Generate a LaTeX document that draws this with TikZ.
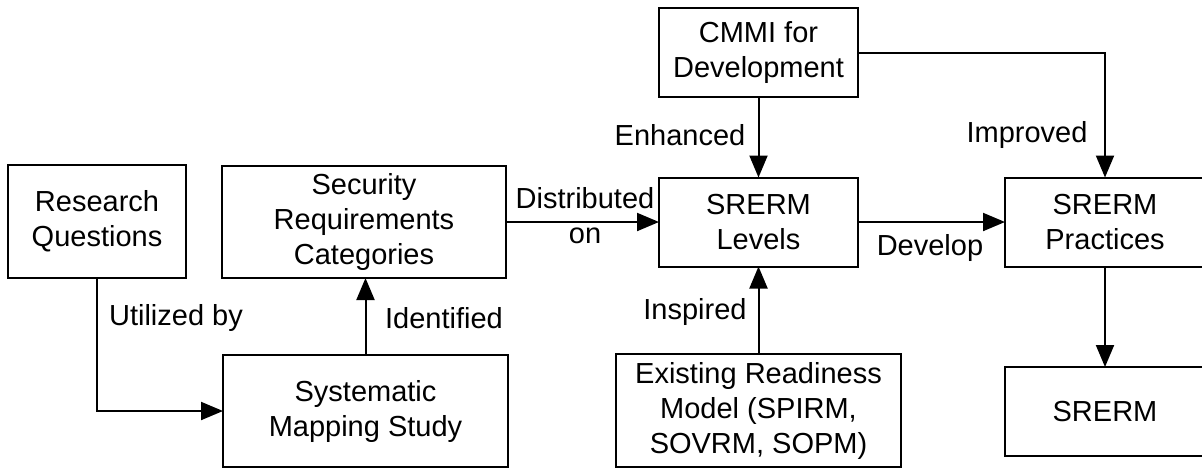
\documentclass[tikz,border=0pt]{standalone}
\usepackage{fontspec}
\setmainfont{Liberation Sans}
\usetikzlibrary{arrows.meta}
\begin{document}
\begin{tikzpicture}[x=1pt,y=-1pt,
  every node/.style={font=\fontsize{29}{35}\selectfont, inner sep=0pt, outer sep=0pt},
  box/.style={draw, line width=2pt, align=center},
  lbl/.style={align=center},
  conn/.style={line width=2pt, -{Triangle[length=22pt,width=18pt]}}]
\useasboundingbox (0,0) rectangle (1202,469);
\fill[white] (0,0) rectangle (1202,469);
\node[box, minimum width=178pt, minimum height=113pt] (rq) at (97,221.5) {Research\\Questions};
\node[box, minimum width=284pt, minimum height=112pt] (src) at (364,222) {Security\\Requirements\\Categories};
\node[box, minimum width=285pt, minimum height=112pt] (sms) at (365.5,411) {Systematic\\Mapping Study};
\node[box, minimum width=199pt, minimum height=89pt] (cmmi) at (758.5,52.5) {CMMI for\\Development};
\node[box, minimum width=199pt, minimum height=89pt] (lev) at (758.5,222) {SRERM\\Levels};
\node[box, minimum width=285pt, minimum height=113pt] (erm) at (758.5,410.5) {Existing Readiness\\Model (SPIRM,\\SOVRM, SOPM)};
\node[box, minimum width=200pt, minimum height=89pt] (prac) at (1105,222) {SRERM\\Practices};
\node[box, minimum width=200pt, minimum height=89pt] (srerm) at (1105,411.5) {SRERM};

\draw[conn] (rq.south) |- (sms.west);
\draw[conn] (sms.north) -- (sms.north |- src.south);
\draw[conn] (src.east) -- (lev.west);
\draw[conn] (cmmi.south) -- (lev.north);
\draw[conn] (erm.north) -- (lev.south);
\draw[conn] (lev.east) -- (prac.west);
\draw[conn] (cmmi.east) -| (prac.north);
\draw[conn] (prac.south) -- (srerm.north);

\node[lbl] (lutil) at (176,318) {Utilized by};
\node[lbl] (lident) at (444,318) {Identified};
\node[lbl] (ldist) at (585,216) {Distributed\\on};
\node[lbl] (lenh) at (680,135) {Enhanced};
\node[lbl] (limp) at (1027,135) {Improved};
\node[lbl] (linsp) at (695,312) {Inspired};
\node[lbl] (ldev) at (930,248) {Develop};
\end{tikzpicture}
\end{document}
